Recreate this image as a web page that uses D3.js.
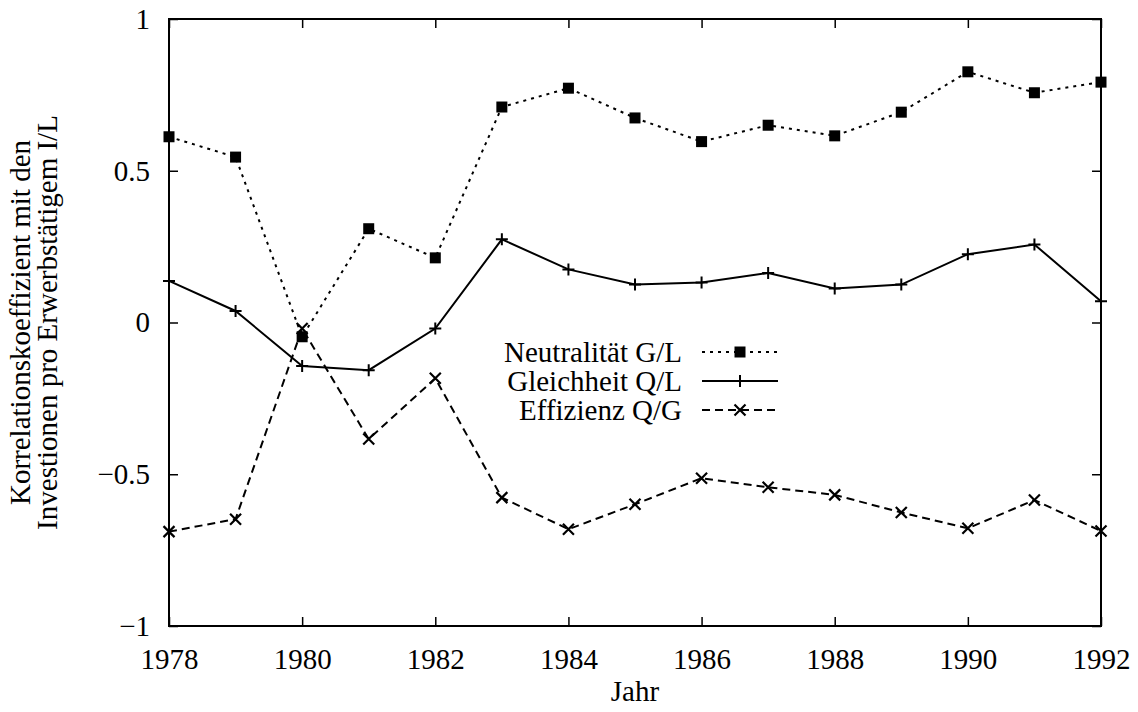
<!DOCTYPE html>
<html>
<head>
<meta charset="utf-8">
<script src="https://cdn.jsdelivr.net/npm/d3@7"></script>
<style>
	body { margin: 0; background: #fff; }
	svg text { font-family: "Liberation Serif", "Times New Roman", serif; fill: #000; }
</style>
</head>
<body>
<svg id="chart" width="1138" height="712"></svg>
<script>
'use strict';

var years = d3.range(1978, 1993);
var neutralitaet = [0.612, 0.545, -0.047, 0.309, 0.213, 0.71, 0.772, 0.674, 0.596, 0.65, 0.615, 0.693, 0.826, 0.757, 0.792];
var gleichheit = [0.137, 0.038, -0.143, -0.157, -0.02, 0.274, 0.175, 0.125, 0.132, 0.163, 0.112, 0.125, 0.225, 0.257, 0.07];
var effizienz = [-0.689, -0.648, -0.02, -0.384, -0.184, -0.577, -0.681, -0.599, -0.513, -0.543, -0.568, -0.626, -0.678, -0.585, -0.687];
var xTicks = d3.range(1978, 1993, 2);
var yTicks = [-1, -0.5, 0, 0.5, 1];

var series = [
	{ name: 'Neutralität G/L', values: neutralitaet, dash: '3,5', symbol: 'square' },
	{ name: 'Gleichheit Q/L', values: gleichheit, dash: null, symbol: 'plus' },
	{ name: 'Effizienz Q/G', values: effizienz, dash: '8,5', symbol: 'cross' }
];

var fontSize = 29;
var margin = { left: 169, top: 19, right: 37, bottom: 86 };
var svg = d3.select('#chart');
var width = +svg.attr('width') - margin.left - margin.right;
var height = +svg.attr('height') - margin.top - margin.bottom;

var x = d3.scaleLinear().domain([1978, 1992]).range([0, width]);
var y = d3.scaleLinear().domain([-1, 1]).range([height, 0]);

var chart = svg.append('g')
	.attr('transform', 'translate(' + margin.left + ',' + margin.top + ')');

// inward ticks on all four sides
function styleAxis(g) {
	g.select('.domain').remove();
	g.selectAll('.tick line').attr('stroke', '#000').attr('stroke-width', 1.5);
	g.selectAll('.tick text').attr('font-size', fontSize).attr('font-family', '"Liberation Serif", serif');
}
chart.append('g')
	.attr('transform', 'translate(0,' + height + ')')
	.call(d3.axisBottom(x).tickValues(xTicks).tickFormat(d3.format('d')).tickSizeInner(-9).tickPadding(22))
	.call(styleAxis);
chart.append('g')
	.call(d3.axisTop(x).tickValues(xTicks).tickSizeInner(-9).tickFormat(''))
	.call(styleAxis);
chart.append('g')
	.call(d3.axisLeft(y).tickValues(yTicks).tickSizeInner(-9).tickPadding(19)
		.tickFormat(function(d) { return d === 0 ? '0' : d3.format('')(d).replace('-', '\u2212'); }))
	.call(styleAxis);
chart.append('g')
	.attr('transform', 'translate(' + width + ',0)')
	.call(d3.axisRight(y).tickValues(yTicks).tickSizeInner(-9).tickFormat(''))
	.call(styleAxis);

chart.append('rect')
	.attr('width', width).attr('height', height)
	.attr('fill', 'none').attr('stroke', '#000').attr('stroke-width', 2);

function drawSymbol(g, kind) {
	if (kind === 'square') {
		g.append('rect').attr('x', -5.5).attr('y', -5.5).attr('width', 11).attr('height', 11).attr('fill', '#000');
	} else if (kind === 'plus') {
		g.append('path').attr('d', 'M-6,0H6M0,-6V6').attr('stroke', '#000').attr('stroke-width', 2);
	} else {
		g.append('path').attr('d', 'M-5.5,-5.5L5.5,5.5M-5.5,5.5L5.5,-5.5').attr('stroke', '#000').attr('stroke-width', 2.2);
	}
}

var line = d3.line()
	.x(function(d, i) { return x(years[i]); })
	.y(function(d) { return y(d); });

series.forEach(function(s) {
	chart.append('path')
		.datum(s.values)
		.attr('d', line)
		.attr('fill', 'none')
		.attr('stroke', '#000')
		.attr('stroke-width', 2)
		.attr('stroke-dasharray', s.dash);
	chart.append('g').selectAll('g')
		.data(s.values)
		.enter().append('g')
		.attr('transform', function(d, i) { return 'translate(' + x(years[i]) + ',' + y(d) + ')'; })
		.each(function() { drawSymbol(d3.select(this), s.symbol); });
});

// legend
var legend = svg.append('g').attr('transform', 'translate(682,352)');
series.forEach(function(s, i) {
	var row = legend.append('g').attr('transform', 'translate(0,' + (i * 29) + ')');
	row.append('text')
		.attr('text-anchor', 'end')
		.attr('dy', '0.35em')
		.attr('font-size', fontSize)
		.text(s.name);
	row.append('line')
		.attr('x1', 20).attr('x2', 96)
		.attr('stroke', '#000').attr('stroke-width', 2)
		.attr('stroke-dasharray', s.dash);
	drawSymbol(row.append('g').attr('transform', 'translate(58,0)'), s.symbol);
});

// axis titles
svg.append('text')
	.attr('x', margin.left + width / 2)
	.attr('y', 701)
	.attr('text-anchor', 'middle')
	.attr('font-size', fontSize)
	.text('Jahr');
var yTitle = svg.append('text')
	.attr('transform', 'translate(33,' + (margin.top + height / 2) + ') rotate(-90)')
	.attr('text-anchor', 'middle')
	.attr('font-size', fontSize);
yTitle.append('tspan').attr('x', 0).attr('dy', '-0.12em').text('Korrelationskoeffizient mit den');
yTitle.append('tspan').attr('x', 0).attr('dy', '0.95em').text('Investionen pro Erwerbstätigem I/L');
</script>
</body>
</html>
